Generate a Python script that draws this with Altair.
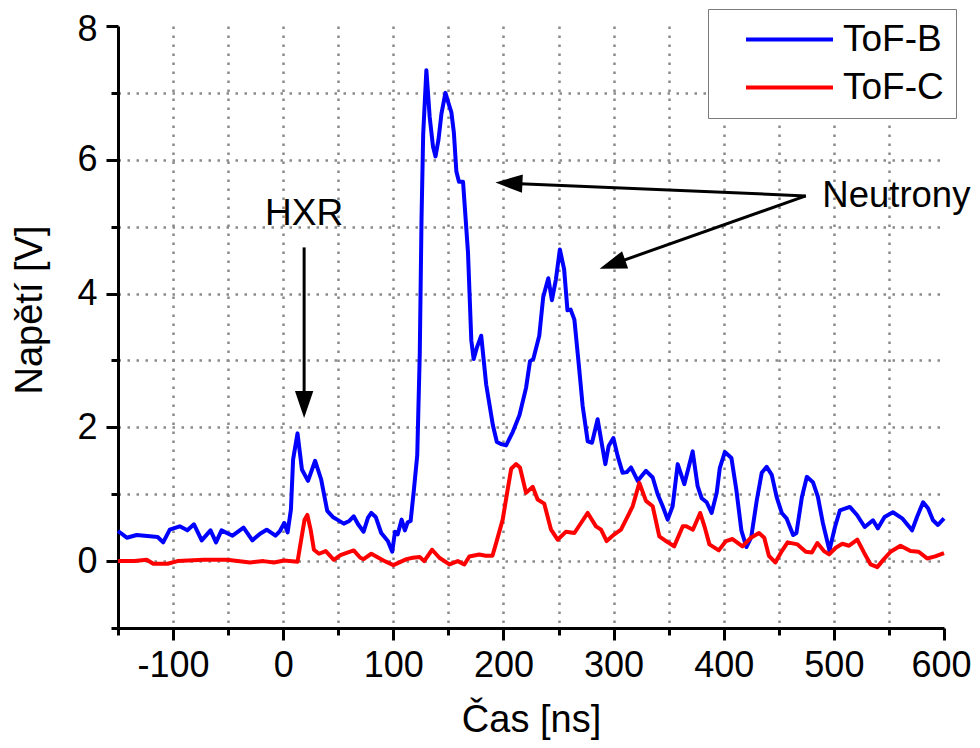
import altair as alt
import pandas as pd

# ---- data ----
tB = [-150, -142, -133, -121, -114, -109, -103, -94, -87, -81, -74, -66, -61, -56, -46, -36, -28, -21, -15, -7, -3,
      1, 4, 7, 9, 13, 17, 22.5, 29, 34.5, 40, 45, 49, 55, 60, 64, 68, 73, 77, 80, 84, 89, 95, 99, 101.5, 104,
      107.5, 110.5, 113, 115.7, 118.7, 121.7, 124, 125.6, 127.1, 130, 133, 136, 138.3, 141, 143.7, 147.3, 150,
      152.7, 155, 157.2, 159.6, 163.3, 167.8, 170.8, 172.9, 176, 179.8, 184.3, 190.4, 194, 198, 202.4, 208.4,
      214.5, 220.5, 224.1, 227.1, 232.5, 236.1, 240.7, 244, 247.6, 251.2, 255.1, 258.1, 261, 264.4, 268.9,
      271.9, 276.5, 280.4, 285.5, 288.6, 292.5, 295.5, 299.8, 303.7, 308.2, 312, 315.8, 321.9, 329.4, 335.5,
      340, 344.6, 349.1, 353.6, 358.2, 364.2, 371.8, 376.3, 380, 384.5, 389, 393.6, 396.4, 401, 407, 411.5,
      416, 420.6, 425, 430, 434.5, 439, 443.6, 448, 452.7, 457, 463, 466, 471, 475.5, 481, 485.5, 490, 496,
      501, 505.5, 514.5, 521, 528, 535.5, 540, 546, 553.6, 562, 571, 575.5, 581, 585.5, 590, 594.5, 600]
vB = [0.45, 0.35, 0.39, 0.37, 0.36, 0.28, 0.47, 0.52, 0.46, 0.55, 0.31, 0.46, 0.28, 0.46, 0.38, 0.50, 0.31, 0.41,
      0.47, 0.38, 0.45, 0.57, 0.43, 0.77, 1.52, 1.91, 1.37, 1.20, 1.50, 1.22, 0.75, 0.66, 0.62, 0.56, 0.60, 0.67,
      0.55, 0.44, 0.65, 0.72, 0.66, 0.42, 0.30, 0.14, 0.44, 0.40, 0.62, 0.46, 0.58, 0.60, 1.07, 1.58, 3.10, 5.12,
      6.38, 7.34, 6.64, 6.20, 6.05, 6.30, 6.69, 7.00, 6.85, 6.71, 6.40, 5.83, 5.67, 5.67, 4.61, 3.30, 3.02, 3.20,
      3.37, 2.64, 2.03, 1.78, 1.75, 1.73, 1.93, 2.18, 2.59, 2.99, 3.02, 3.37, 3.95, 4.23, 3.90, 4.21, 4.66, 4.36,
      3.75, 3.76, 3.61, 2.85, 2.32, 1.79, 1.77, 2.12, 1.82, 1.45, 1.72, 1.84, 1.57, 1.32, 1.33, 1.40, 1.20, 1.35,
      1.25, 1.00, 0.82, 0.62, 0.82, 1.45, 1.15, 1.64, 1.12, 0.94, 0.88, 0.72, 1.02, 1.39, 1.63, 1.54, 1.06, 0.46,
      0.21, 0.36, 0.91, 1.32, 1.41, 1.29, 0.96, 0.72, 0.64, 0.39, 0.42, 0.96, 1.26, 1.18, 0.96, 0.57, 0.16, 0.51,
      0.76, 0.81, 0.69, 0.51, 0.61, 0.49, 0.66, 0.73, 0.64, 0.46, 0.66, 0.88, 0.79, 0.61, 0.54, 0.64]

tC = [-150, -135, -124, -118, -105, -96, -72, -51, -30, -18, -8.5, 1, 13, 15.8, 19.4, 21.9, 24.9, 27.9, 32.5,
      38.6, 46, 52, 57, 64, 70, 73, 80, 91, 100, 112, 117.6, 124, 128, 135.2, 141.8, 150.9, 158.5, 164.5, 169,
      178, 184, 190, 193, 199.3, 203, 207, 211.4, 215, 220.5, 226.6, 231, 237, 243.2, 249.2, 256.8, 264.4,
      270.4, 276.5, 284, 288.6, 293.7, 300.7, 306.7, 312.8, 317.3, 323.4, 329.4, 335.5, 341.5, 347.6, 355,
      362.8, 366, 372, 378.6, 382.5, 387, 395.5, 402, 408, 417, 424.7, 432, 436.8, 441, 446.8, 452, 458, 467,
      474.5, 480, 485, 491, 495.7, 501.7, 507.7, 513.8, 521.3, 527.3, 533.4, 539.4, 545.4, 551.5, 560.5,
      569.6, 577, 584.7, 592, 600]
vC = [0.0, 0.0, 0.02, -0.04, -0.04, 0.0, 0.02, 0.02, -0.02, 0.0, -0.02, 0.01, -0.01, 0.27, 0.62, 0.69, 0.47,
      0.17, 0.11, 0.15, 0.02, 0.09, 0.12, 0.16, 0.05, 0.03, 0.11, 0.01, -0.06, 0.03, 0.05, 0.06, 0.0, 0.17, 0.05,
      -0.05, 0.0, -0.05, 0.07, 0.10, 0.08, 0.08, 0.25, 0.62, 0.99, 1.38, 1.45, 1.40, 1.02, 1.11, 0.92, 0.86, 0.47,
      0.32, 0.44, 0.42, 0.57, 0.72, 0.52, 0.47, 0.30, 0.40, 0.47, 0.67, 0.82, 1.17, 0.90, 0.82, 0.37, 0.30, 0.22,
      0.52, 0.52, 0.47, 0.72, 0.52, 0.25, 0.16, 0.30, 0.33, 0.22, 0.35, 0.42, 0.35, 0.08, -0.02, 0.13, 0.28, 0.25,
      0.14, 0.13, 0.27, 0.15, 0.10, 0.20, 0.26, 0.23, 0.32, 0.13, -0.05, -0.09, 0.03, 0.14, 0.23, 0.15, 0.14, 0.04,
      0.07, 0.12]

series = ["ToF-B", "ToF-C"]
colors = ["#0000ff", "#ff0000"]

x_major = [-100, 0, 100, 200, 300, 400, 500, 600]
x_minor = [-150, -50, 50, 150, 250, 350, 450, 550]
x_grid = [-100, -50, 0, 50, 100, 150, 200, 250, 300, 350, 400, 450, 500, 550]
y_major = [0, 2, 4, 6, 8]
y_minor = [-1, 1, 3, 5, 7]
y_grid = [0, 1, 2, 3, 4, 5, 6, 7]

# annotations (data coordinates)
hxr_label = ["HXR"]
hxr_x = [19]
hxr_y = [5.03]
neu_label = ["Neutrony"]
neu_x = [489.5]
neu_y = [5.30]
arrow_x = [19, 474.5, 474.5]
arrow_y = [4.69, 5.46, 5.46]
arrow_x2 = [19, 203.6, 297.5]
arrow_y2 = [2.32, 5.65, 4.43]
head_x = [19, 192.7, 287.3]
head_y = [2.14, 5.66, 4.37]
head_angle = [180, 272.5, 250.7]

df = pd.concat([
    pd.DataFrame({"t": tB, "v": vB, "s": series[0]}),
    pd.DataFrame({"t": tC, "v": vC, "s": series[1]}),
], ignore_index=True)
df_hxr = pd.DataFrame({"label": hxr_label, "x": hxr_x, "y": hxr_y})
df_neu = pd.DataFrame({"label": neu_label, "x": neu_x, "y": neu_y})
df_arrow = pd.DataFrame({"x": arrow_x, "y": arrow_y, "x2": arrow_x2, "y2": arrow_y2})
df_head = pd.DataFrame({"x": head_x, "y": head_y, "a": head_angle})

FONT = "Liberation Sans"
FS = 37      # annotations / legend
FS_TICK = 36
FS_TITLE = 38

xs = alt.Scale(domain=[-150, 600], nice=False, zero=False)
ys = alt.Scale(domain=[-1, 8], nice=False, zero=False)

ax_x_major = alt.Axis(orient="bottom", values=x_major, grid=False, tickSize=12, tickWidth=3, tickColor="black",
                      domainWidth=3, domainColor="black", labelFontSize=FS_TICK, labelColor="black",
                      labelPadding=8, labelFlush=False, labelOverlap=False, labelExpr="'' + datum.value",
                      labelOffset={"condition": {"test": "datum.value == 600", "value": -3}, "value": 0},
                      title="Čas [ns]", titleFontSize=FS_TITLE, titleFontWeight="normal", titleColor="black",
                      titleX=413, titleY=103, titleBaseline="alphabetic")
ax_y_major = alt.Axis(orient="left", values=y_major, grid=False, tickSize=12, tickWidth=3, tickColor="black",
                      domainWidth=3, domainColor="black", labelFontSize=FS_TICK, labelColor="black",
                      labelPadding=9, labelFlush=False, labelOverlap=False, labelExpr="'' + datum.value",
                      labelOffset={"condition": {"test": "datum.value == 8", "value": 3}, "value": 0},
                      title="Napětí [V]", titleFontSize=FS_TITLE, titleFontWeight="normal", titleColor="black",
                      titleX=-76.3, titleY=283.5, titleBaseline="alphabetic")
ax_x_minor = alt.Axis(orient="bottom", values=x_minor, grid=False, tickSize=7, tickWidth=3, tickColor="black",
                      domain=False, labels=False, title=None)
ax_y_minor = alt.Axis(orient="left", values=y_minor, grid=False, tickSize=7, tickWidth=3, tickColor="black",
                      domain=False, labels=False, title=None)
grid_kw = dict(grid=True, gridColor="#8a8a8a", gridWidth=2.5, gridDash=[2.5, 6.5], gridOpacity=1,
               ticks=False, domain=False, labels=False, title=None)
ax_x_grid = alt.Axis(orient="bottom", values=x_grid, **grid_kw)
ax_y_grid = alt.Axis(orient="left", values=y_grid, **grid_kw)

lines = alt.Chart(df).mark_line(strokeWidth=4, strokeJoin="round").encode(
    x=alt.X("t:Q", scale=xs, axis=ax_x_major),
    y=alt.Y("v:Q", scale=ys, axis=ax_y_major),
    color=alt.Color("s:N", scale=alt.Scale(domain=series, range=colors),
                    legend=alt.Legend(title=None, orient="none", legendX=590, legendY=-17, padding=12,
                                      fillColor="white", strokeColor="#7a7a7a", symbolType="stroke",
                                      symbolSize=7569, symbolStrokeWidth=4, clipHeight=37,
                                      labelFontSize=FS, labelColor="black", labelOffset=8, symbolOffset=24,
                                      rowPadding=10)),
)

hxr = alt.Chart(df_hxr).mark_text(fontSize=FS, align="center", baseline="alphabetic", color="black").encode(
    x=alt.X("x:Q", scale=xs, axis=ax_x_minor),
    y=alt.Y("y:Q", scale=ys, axis=ax_y_minor),
    text="label:N",
)
neu = alt.Chart(df_neu).mark_text(fontSize=36.5, align="left", baseline="alphabetic", color="black").encode(
    x=alt.X("x:Q", scale=xs, axis=None),
    y=alt.Y("y:Q", scale=ys, axis=None),
    text="label:N",
)
arrows = alt.Chart(df_arrow).mark_rule(strokeWidth=3, color="black").encode(
    x=alt.X("x:Q", scale=xs, axis=ax_x_grid),
    y=alt.Y("y:Q", scale=ys, axis=ax_y_grid),
    x2="x2:Q",
    y2="y2:Q",
)
heads = alt.Chart(df_head).mark_point(shape="M0,0L-0.34,1L0.34,1Z", filled=True, size=2916,
                                      color="black", opacity=1, strokeWidth=0).encode(
    x=alt.X("x:Q", scale=xs, axis=None),
    y=alt.Y("y:Q", scale=ys, axis=None),
    angle=alt.Angle("a:Q", scale=None),
)

chart = alt.layer(lines, hxr, neu, arrows, heads).resolve_axis(
    x="independent", y="independent"
).properties(
    width=826, height=602,
    padding={"left": 110, "top": 18, "right": 28, "bottom": 112},
    autosize=alt.AutoSizeParams(type="none"),
).configure(font=FONT, background="white").configure_view(stroke=None)

chart.save("out.html", embed_options={"renderer": "svg", "actions": False})
